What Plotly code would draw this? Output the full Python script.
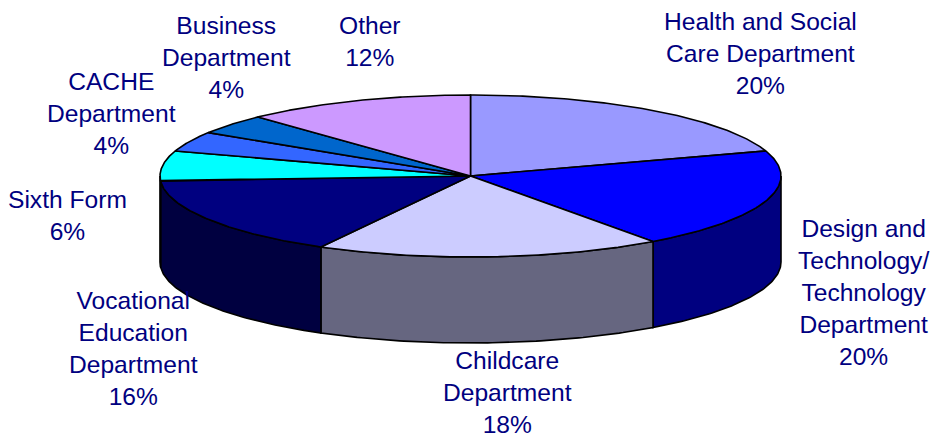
import numpy as np
import plotly.graph_objects as go

categories = ["Health and Social Care Department", "Design and Technology/ Technology Department",
              "Childcare Department", "Vocational Education Department", "Sixth Form",
              "CACHE Department", "Business Department", "Other"]
values = [20, 20, 18, 16, 6, 4, 4, 12]
top_colors = ["#9999FF", "#0000FF", "#CCCCFF", "#000080", "#00FFFF", "#3366FF", "#0066CC", "#CC99FF"]
side_colors = ["#4D4D80", "#000080", "#666680", "#000040", "#008080", "#1A3380", "#003366", "#664D80"]
label_lines = [["Health and Social", "Care Department", "20%"],
               ["Design and", "Technology/", "Technology", "Department", "20%"],
               ["Childcare", "Department", "18%"],
               ["Vocational", "Education", "Department", "16%"],
               ["Sixth Form", "6%"],
               ["CACHE", "Department", "4%"],
               ["Business", "Department", "4%"],
               ["Other", "12%"]]
label_xy = [(760, 53), (863, 292), (507, 392), (133, 348), (67, 215), (111, 113), (226, 57), (370, 41)]

CX, CY, RX, RY, DEPTH = 470.5, 176, 310.5, 81, 86
LINE = dict(color="black", width=1.6)


def ell(theta):
    return CX + RX * np.sin(theta), CY - RY * np.cos(theta)


fig = go.Figure()
edges = np.cumsum([0] + values) / sum(values) * 2 * np.pi

# Side walls: only the front half (pi/2..3pi/2) is visible
for i in range(len(values)):
    a, b = max(edges[i], np.pi / 2), min(edges[i + 1], 3 * np.pi / 2)
    if b <= a:
        continue
    t = np.linspace(a, b, 80)
    x, y = ell(t)
    px = np.r_[x, x[::-1], x[0]]
    py = np.r_[y, y[::-1] + DEPTH, y[0]]
    fig.add_trace(go.Scatter(x=px, y=py, mode="lines", fill="toself",
                             fillcolor=side_colors[i], line=LINE, hoverinfo="skip"))

# Top slices
for i in range(len(values)):
    t = np.linspace(edges[i], edges[i + 1], 120)
    x, y = ell(t)
    px = np.r_[CX, x, CX]
    py = np.r_[CY, y, CY]
    fig.add_trace(go.Scatter(x=px, y=py, mode="lines", fill="toself",
                             fillcolor=top_colors[i], line=LINE, name=categories[i]))

for lines, (lx, ly) in zip(label_lines, label_xy):
    fig.add_annotation(x=lx, y=ly, text="<br>".join(lines), showarrow=False,
                       xanchor="center", yanchor="middle", align="center",
                       font=dict(family="Liberation Sans", size=24.6, color="#000080"))

fig.update_layout(width=934, height=439, margin=dict(l=0, r=0, t=0, b=0),
                  paper_bgcolor="white", plot_bgcolor="white", showlegend=False,
                  xaxis=dict(range=[0, 934], visible=False, fixedrange=True),
                  yaxis=dict(range=[439, 0], visible=False, fixedrange=True))
fig.write_html("out.html", config=dict(displayModeBar=False),
               post_script="document.body.style.margin='0';document.documentElement.style.overflow='hidden';")
